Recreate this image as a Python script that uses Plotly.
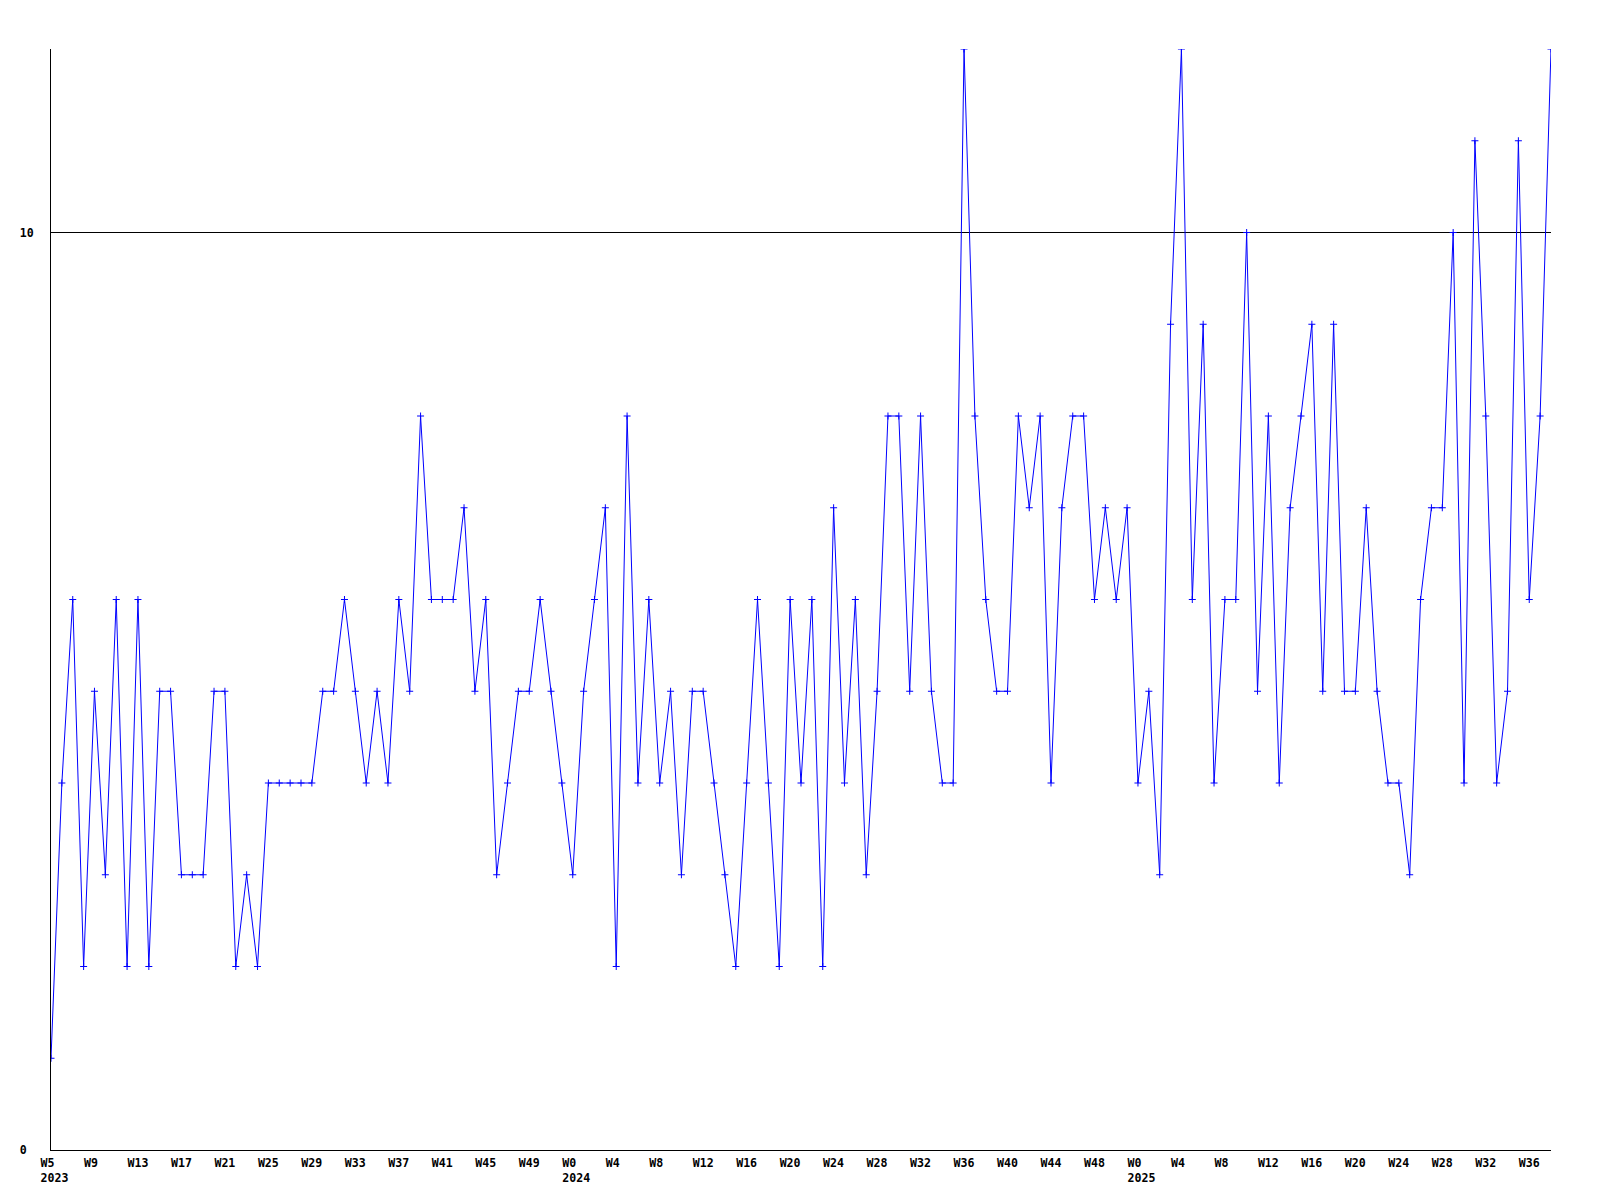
import pandas as pd
import plotly.graph_objects as go

# Weekly counts, weeks ending on Saturday, first week = 2023 W5
start_date = "2023-02-04"
counts = [
    1, 4, 6, 2, 5, 3, 6, 2, 6, 2, 5, 5, 3, 3, 3, 5, 5, 2, 3, 2, 4,
    4, 4, 4, 4, 5, 5, 6, 5, 4, 5, 4, 6, 5, 8, 6, 6, 6, 7, 5, 6,
    3, 4, 5, 5, 6, 5, 4, 3, 5, 6, 7, 2, 8, 4, 6, 4, 5, 3, 5, 5,
    4, 3, 2, 4, 6, 4, 2, 6, 4, 6, 2, 7, 4, 6, 3, 5, 8, 8, 5, 8, 5,
    4, 4, 12, 8, 6, 5, 5, 8, 7, 8, 4, 7, 8, 8, 6, 7, 6, 7, 4, 5,
    3, 9, 12, 6, 9, 4, 6, 6, 10, 5, 8, 4, 7, 8, 9, 5, 9, 5, 5, 7,
    5, 4, 4, 3, 6, 7, 7, 10, 4, 11, 8, 4, 5, 11, 6, 8, 12,
]

# x tick labels (one every 4 weeks)
tick_text = [
    "W5<br>2023", "W9", "W13", "W17", "W21", "W25", "W29", "W33", "W37", "W41", "W45", "W49",
    "W0<br>2024", "W4", "W8", "W12", "W16", "W20", "W24", "W28", "W32", "W36", "W40", "W44", "W48",
    "W0<br>2025", "W4", "W8", "W12", "W16", "W20", "W24", "W28", "W32", "W36",
]
tick_step_weeks = 4

y_tick_vals = [0, 10]
y_tick_text = ["0\u00a0", "10"]

dates = pd.date_range(start_date, periods=len(counts), freq="7D")
tick_dates = [dates[i * tick_step_weeks] for i in range(len(tick_text))]

font = dict(family="DejaVu Sans Mono", size=11.6, color="black", weight=700)

fig = go.Figure()
fig.add_trace(go.Scatter(
    x=dates, y=counts, mode="lines+markers",
    line=dict(color="#0000ff", width=1),
    marker=dict(symbol="cross-thin", size=5, line=dict(color="#0000ff", width=1), color="#0000ff"),
    cliponaxis=True, showlegend=False,
))

fig.update_layout(
    width=1600, height=1200,
    margin=dict(l=43, r=57, t=41, b=58),
    paper_bgcolor="white", plot_bgcolor="white",
    font=font,
    showlegend=False,
)
fig.update_xaxes(
    range=[dates[0], dates[-1]],
    tickmode="array", tickvals=tick_dates, ticktext=tick_text,
    ticklabelposition="outside right", ticklabelshift=-11,
    showgrid=False, zeroline=False,
    showline=True, linecolor="black", linewidth=1,
    ticks="", tickfont=font, ticklabelstandoff=2,
    automargin=False,
)
fig.update_yaxes(
    range=[0, 12],
    tickmode="array", tickvals=y_tick_vals, ticktext=y_tick_text,
    showgrid=True, gridcolor="black", gridwidth=1,
    zeroline=False,
    showline=True, linecolor="black", linewidth=1,
    ticks="", tickfont=font, ticklabelstandoff=14,
    automargin=False,
)

fig.write_html("out.html")
